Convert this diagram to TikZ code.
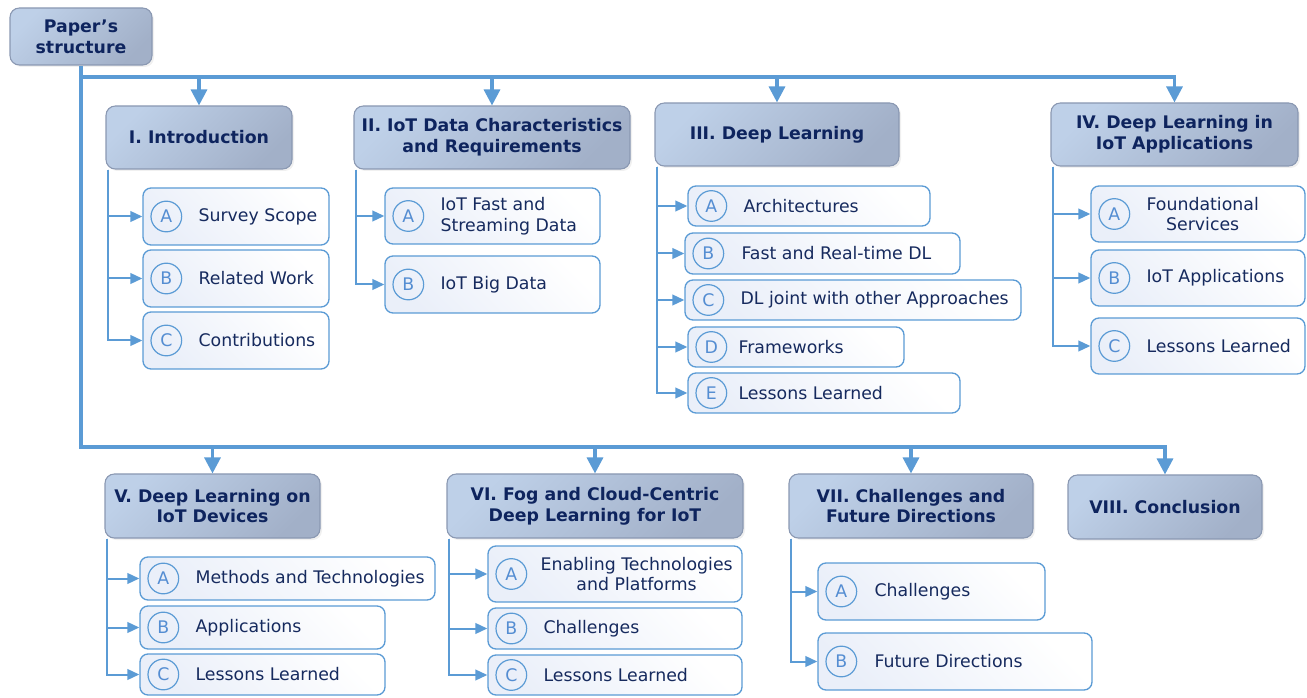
\documentclass[tikz,border=0pt]{standalone}
\usepackage{fontspec}
\setmainfont{DejaVu Sans}
\usepackage{tikz}
\usetikzlibrary{arrows.meta, fit, shadows, calc}

\definecolor{linecol}{RGB}{91,155,213}
\definecolor{hdlight}{RGB}{190,208,232}
\definecolor{hddark}{RGB}{162,176,200}
\definecolor{hdborder}{RGB}{138,152,178}
\definecolor{hdtext}{RGB}{14,36,94}
\definecolor{subtextcol}{RGB}{22,42,94}
\definecolor{sublight}{RGB}{234,239,249}
\definecolor{lettercol}{RGB}{84,141,210}

\tikzset{
    trunk/.style={draw=linecol, line width=2.4pt},
    trunkarrow/.style={trunk, -{Triangle[width=12pt,length=12pt]}},
    branch/.style={draw=linecol, line width=1.5pt, -{Triangle[width=8pt,length=9pt]}},
    header/.style={draw=hdborder, line width=0.8pt, rounded corners=7pt,
        left color=hdlight, right color=hddark, shading angle=45, inner sep=0pt,
        drop shadow={opacity=0.12, shadow xshift=1.5pt, shadow yshift=-1.5pt}},
    headtext/.style={inner sep=0pt, text=hdtext, align=center,
        font=\fontsize{13}{15.5}\selectfont\bfseries},
    subbox/.style={draw=linecol, line width=1pt, rounded corners=6pt,
        left color=sublight, right color=white, shading angle=135, inner sep=0pt},
    letter/.style={circle, draw=linecol, line width=0.9pt, minimum size=23pt,
        inner sep=0pt, text=lettercol, font=\fontsize{13}{13}\selectfont},
    subtext/.style={anchor=west, inner sep=0pt, text=subtextcol,
        font=\fontsize{13}{15.5}\selectfont},
}

\begin{document}
\begin{tikzpicture}[x=0.75pt, y=-0.75pt]
    \useasboundingbox (0,0) rectangle (1307,698);

    % Section headers: name/box corners/title
    \foreach \hd/\xa/\ya/\xb/\yb/\t in {
        root/10/8/152/65/{Paper’s\\structure},
        intro/106/106/292/169/{I. Introduction},
        iotdata/354/106/630/169/{II. IoT Data Characteristics\\and Requirements},
        dl/655/103/899/166/{III. Deep Learning},
        dlapp/1051/103/1298/166/{IV. Deep Learning in\\IoT Applications},
        devices/105/474/320/538/{V. Deep Learning on\\IoT Devices},
        fog/447/474/743/538/{VI. Fog and Cloud-Centric\\Deep Learning for IoT},
        future/789/474/1033/538/{VII. Challenges and\\Future Directions},
        conc/1068/475/1262/539/{VIII. Conclusion}} {
        \node[header, fit={(\xa,\ya) (\xb,\yb)}] (\hd) {};
        \node[headtext] (\hd-t) at (\hd.center) {\t};
    }

    % Trunk and the two buses
    \coordinate (bus1) at (0,77);
    \coordinate (bus2) at (0,447);
    \draw[trunkarrow] (root.south) |- (conc.north |- bus2) -- (conc.north);
    \draw[trunkarrow] (root.south |- bus1) -| (dlapp.north);
    \foreach \hd/\bus in {intro/bus1, iotdata/bus1, dl/bus1, devices/bus2, fog/bus2, future/bus2}
        \draw[trunkarrow] (\hd.north |- \bus) -- (\hd.north);

    % Subsections: header/name/letter/box corners/text x/align/text
    \foreach \hd/\n/\l/\xa/\ya/\xb/\yb/\tx/\al/\t in {
        intro/ia/A/143/188/329/245/199/left/{Survey Scope},
        intro/ib/B/143/250/329/307/199/left/{Related Work},
        intro/ic/C/143/312/329/369/199/left/{Contributions},
        iotdata/iia/A/385/188/600/244/441/left/{IoT Fast and\\Streaming Data},
        iotdata/iib/B/385/256/600/313/441/left/{IoT Big Data},
        dl/iiia/A/688/186/930/226/744/left/{Architectures},
        dl/iiib/B/685/233/960/274/742/left/{Fast and Real-time DL},
        dl/iiic/C/685/280/1021/320/741/left/{DL joint with other Approaches},
        dl/iiid/D/688/327/904/367/739/left/{Frameworks},
        dl/iiie/E/688/373/960/413/739/left/{Lessons Learned},
        dlapp/iva/A/1091/186/1305/242/1147/center/{Foundational\\Services},
        dlapp/ivb/B/1091/250/1305/306/1147/left/{IoT Applications},
        dlapp/ivc/C/1091/318/1305/374/1147/left/{Lessons Learned},
        devices/va/A/140/557/435/600/196/left/{Methods and Technologies},
        devices/vb/B/140/606/385/649/196/left/{Applications},
        devices/vc/C/140/654/385/695/196/left/{Lessons Learned},
        fog/via/A/488/546/742/602/541/center/{Enabling Technologies\\and Platforms},
        fog/vib/B/488/608/742/649/544/left/{Challenges},
        fog/vic/C/488/655/742/695/544/left/{Lessons Learned},
        future/viia/A/818/563/1045/620/875/left/{Challenges},
        future/viib/B/818/633/1092/690/875/left/{Future Directions}} {
        \node[subbox, fit={(\xa,\ya) (\xb,\yb)}] (\n) {};
        \node[letter] (\n-l) at ($(\n.west)+(24,0)$) {\l};
        \node[subtext, align=\al] (\n-t) at ($(\n.west)+(\tx-\xa,0)$) {\t};
        \draw[branch] (\hd.south west) ++(3,0) |- (\n.west);
    }

\end{tikzpicture}
\end{document}
